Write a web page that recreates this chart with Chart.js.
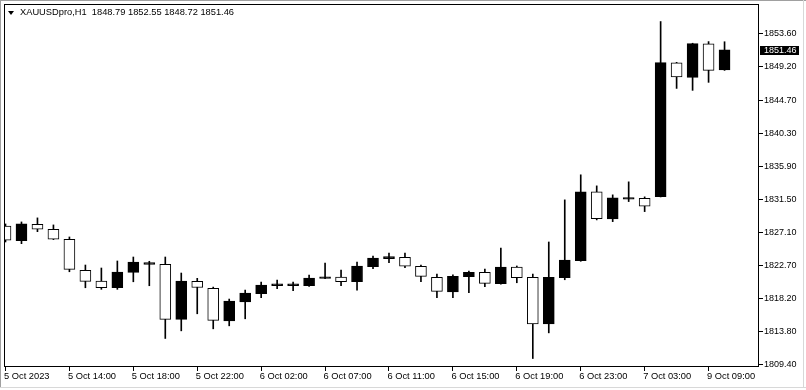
<!DOCTYPE html>
<html>
<head>
<meta charset="utf-8">
<script src="https://cdn.jsdelivr.net/npm/chart.js@4.4.0/dist/chart.umd.min.js"></script>
<style>
html,body{margin:0;padding:0;background:#fff;}
#wrap{position:relative;width:806px;height:390px;overflow:hidden;}
canvas{display:block;}
#hdr{position:absolute;left:20px;top:7px;font-family:"Liberation Sans",Arial,sans-serif;font-size:9.3px;line-height:11px;color:#000;white-space:pre;}
#tri{position:absolute;left:8px;top:11px;width:0;height:0;border-left:3.5px solid transparent;border-right:3.5px solid transparent;border-top:4px solid #000;}
</style>
</head>
<body>
<div id="wrap">
<canvas id="c" width="806" height="390"></canvas>
<div id="tri"></div>
<div id="hdr"></div>
</div>
<script>
// ---- data ----
const symbol = 'XAUUSDpro';
const timeframe = 'H1';
const times = [
 '5 Oct 10:00','5 Oct 11:00','5 Oct 12:00','5 Oct 13:00','5 Oct 14:00','5 Oct 15:00','5 Oct 16:00','5 Oct 17:00',
 '5 Oct 18:00','5 Oct 19:00','5 Oct 20:00','5 Oct 21:00','5 Oct 22:00','5 Oct 23:00',
 '6 Oct 00:00','6 Oct 01:00','6 Oct 02:00','6 Oct 03:00','6 Oct 04:00','6 Oct 05:00',
 '6 Oct 07:00','6 Oct 08:00','6 Oct 09:00','6 Oct 10:00','6 Oct 11:00','6 Oct 12:00','6 Oct 13:00','6 Oct 14:00',
 '6 Oct 15:00','6 Oct 16:00','6 Oct 17:00','6 Oct 18:00','6 Oct 19:00','6 Oct 20:00','6 Oct 21:00','6 Oct 22:00','6 Oct 23:00',
 '7 Oct 00:00','7 Oct 01:00','7 Oct 02:00','7 Oct 03:00',
 '9 Oct 06:00','9 Oct 07:00','9 Oct 08:00','9 Oct 09:00','9 Oct 10:00'
];
const open = [
 1827.92,1825.96,1828.15,1827.48,1826.14,1821.99,1820.56,1819.66,1821.72,1822.79,
 1822.79,1815.43,1820.52,1819.58,1815.24,1817.78,1818.86,1819.93,1819.93,1819.93,
 1820.90,1821.09,1820.46,1822.47,1823.55,1823.73,1822.53,1821.05,1819.12,1821.13,
 1821.72,1820.20,1822.43,1821.05,1814.84,1821.00,1823.28,1832.48,1828.86,1831.50,
 1831.63,1831.85,1849.72,1847.79,1852.26,1848.79
];
const high = [
 1828.19,1828.46,1829.00,1828.06,1826.45,1822.70,1822.30,1823.24,1823.77,1823.20,
 1823.77,1821.63,1820.92,1819.75,1818.15,1819.35,1820.42,1820.69,1820.42,1821.36,
 1822.97,1822.03,1823.10,1823.91,1824.31,1824.31,1822.70,1821.49,1821.40,1821.90,
 1822.16,1824.98,1822.57,1821.49,1825.78,1831.41,1834.76,1833.28,1832.08,1833.82,
 1831.81,1855.25,1849.80,1852.35,1852.57,1852.55
];
const low = [
 1825.78,1825.55,1827.16,1826.10,1821.80,1819.66,1819.45,1819.45,1820.46,1819.93,
 1812.88,1813.90,1816.18,1814.17,1814.57,1815.51,1818.32,1819.53,1819.26,1819.85,
 1820.87,1819.93,1819.35,1822.20,1823.01,1822.34,1820.46,1818.32,1818.32,1818.99,
 1819.79,1820.15,1820.33,1810.20,1813.63,1820.73,1823.20,1828.73,1828.50,1831.18,
 1829.84,1831.80,1846.31,1846.05,1847.12,1848.72
];
const close = [
 1826.01,1828.19,1827.48,1826.14,1822.12,1820.52,1819.66,1821.76,1823.10,1823.01,
 1815.43,1820.56,1819.69,1815.29,1817.88,1818.95,1820.02,1820.20,1820.20,1820.96,
 1821.12,1820.46,1822.57,1823.64,1823.82,1822.53,1821.19,1819.18,1821.19,1821.72,
 1820.25,1822.43,1821.00,1814.84,1821.05,1823.37,1832.48,1828.90,1831.67,1831.72,
 1830.56,1849.76,1847.84,1852.30,1848.72,1851.46
];
const tickLabels = ['5 Oct 2023','5 Oct 14:00','5 Oct 18:00','5 Oct 22:00','6 Oct 02:00','6 Oct 07:00',
 '6 Oct 11:00','6 Oct 15:00','6 Oct 19:00','6 Oct 23:00','7 Oct 03:00','9 Oct 09:00'];
const priceTicks = [1809.40,1813.80,1818.20,1822.70,1827.10,1831.50,1835.90,1840.30,1844.70,1849.20,1853.60];
// ---- end data ----

const last = close.length - 1;
document.getElementById('hdr').textContent =
  symbol + ',' + timeframe + '  ' + [open[last], high[last], low[last], close[last]].map(v => v.toFixed(2)).join(' ');

const FONT = '"Liberation Sans", Arial, sans-serif';
const wickData = times.map((t, i) => ({x: i, y: [low[i], high[i]]}));
const bodyData = times.map((t, i) => ({x: i, y: [open[i], close[i]]}));
const bodyFill = times.map((t, i) => close[i] >= open[i] ? '#000000' : '#ffffff');

const Y_MIN = 1809.066, Y_MAX = 1857.595;
const X_MIN = -0.09375, X_MAX = 47.15625;

const framePlugin = {
  id: 'mtframe',
  beforeDraw(chart) {
    const {ctx, width, height} = chart;
    ctx.save();
    ctx.fillStyle = '#ffffff';
    ctx.fillRect(0, 0, width, height);
    ctx.strokeStyle = '#a0a0a0';
    ctx.lineWidth = 1;
    ctx.beginPath();
    ctx.moveTo(0, 0.5); ctx.lineTo(width, 0.5);
    ctx.moveTo(0.5, 0); ctx.lineTo(0.5, 388);
    ctx.stroke();
    ctx.strokeStyle = '#d8d8d8';
    ctx.beginPath();
    ctx.moveTo(0, 387.5); ctx.lineTo(width, 387.5);
    ctx.moveTo(803.5, 0); ctx.lineTo(803.5, 388);
    ctx.stroke();
    ctx.restore();
  },
  afterDatasetsDraw(chart) {
    const {ctx, chartArea: a} = chart;
    ctx.save();
    ctx.strokeStyle = '#000';
    ctx.lineWidth = 1;
    ctx.strokeRect(a.left + 0.5, a.top + 0.5, a.right - a.left - 1, a.bottom - a.top - 1);
    ctx.restore();
  },
  afterDraw(chart) {
    const {ctx, chartArea: a} = chart;
    const y = Math.round(chart.scales.y.getPixelForValue(close[last]));
    ctx.save();
    ctx.fillStyle = '#000';
    ctx.fillRect(a.right + 1, y - 4, 39, 9);
    ctx.fillStyle = '#fff';
    ctx.font = '9px ' + FONT;
    ctx.textBaseline = 'middle';
    ctx.textAlign = 'left';
    ctx.fillText(close[last].toFixed(2), a.right + 5, y + 0.5);
    ctx.restore();
  }
};

new Chart(document.getElementById('c'), {
  type: 'bar',
  data: {
    datasets: [
      {
        label: 'body', data: bodyData, order: 1, grouped: false, clip: 0,
        barThickness: 11, backgroundColor: bodyFill, borderColor: '#000',
        borderWidth: 1, borderSkipped: false
      },
      {
        label: 'wick', data: wickData, order: 2, grouped: false, clip: 0,
        barThickness: 1, backgroundColor: '#000', borderWidth: 0
      }
    ]
  },
  options: {
    responsive: false,
    animation: false,
    devicePixelRatio: 1,
    layout: {padding: {left: 4, top: 4, right: 0, bottom: 0}},
    plugins: {legend: {display: false}, tooltip: {enabled: false}, title: {display: false}},
    scales: {
      x: {
        type: 'linear', position: 'bottom', min: X_MIN, max: X_MAX, offset: false,
        afterBuildTicks: s => { s.ticks = tickLabels.map((_, i) => ({value: i * 4})); },
        afterFit: s => { s.height = 23; s.paddingLeft = 0; s.paddingRight = 0; },
        grid: {drawOnChartArea: false, drawTicks: true, tickLength: 4, color: '#000', lineWidth: 1, offset: false},
        border: {display: false},
        ticks: {
          autoSkip: false, maxRotation: 0, minRotation: 0, align: 'start', padding: 0, labelOffset: -1.5,
          color: '#000', font: {family: FONT, size: 9.3},
          callback: (v, i) => tickLabels[i]
        }
      },
      y: {
        type: 'linear', position: 'right', min: Y_MIN, max: Y_MAX,
        afterBuildTicks: s => { s.ticks = priceTicks.map(v => ({value: v})); },
        afterFit: s => { s.width = 47; s.paddingTop = 0; s.paddingBottom = 0; },
        grid: {drawOnChartArea: false, drawTicks: true, tickLength: 4, color: '#000', lineWidth: 1},
        border: {display: false},
        ticks: {
          padding: 1, color: '#000', font: {family: FONT, size: 9},
          callback: v => Number(v).toFixed(2)
        }
      }
    }
  },
  plugins: [framePlugin]
});
</script>
</body>
</html>
